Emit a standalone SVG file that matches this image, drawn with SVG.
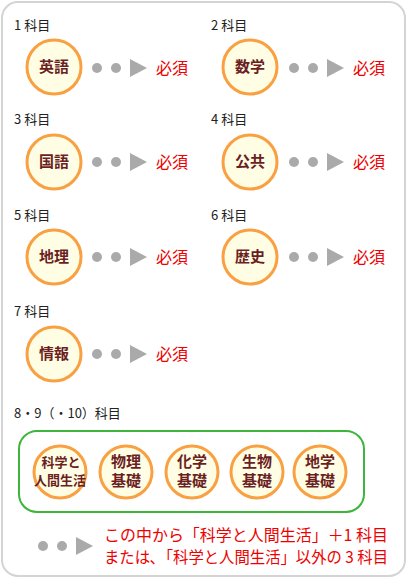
<svg xmlns="http://www.w3.org/2000/svg" width="410" height="582" viewBox="0 0 410 582">
<defs>
<style>
.frame{fill:#fff;stroke:#d4d4d4;stroke-width:2}
.cat{font-family:"Noto Sans CJK JP","Liberation Sans",sans-serif;font-size:13px;fill:#222}
.subj{fill:#fffde4;stroke:#f9a043;stroke-width:3}
.st{font-family:"Noto Sans CJK JP",sans-serif;font-size:15px;font-weight:bold;fill:#6b1f1f;text-anchor:middle}
.st2{font-family:"Noto Sans CJK JP",sans-serif;font-size:15px;font-weight:bold;fill:#6b1f1f;text-anchor:middle}
.st3{font-family:"Noto Sans CJK JP",sans-serif;font-size:13px;font-weight:bold;fill:#6b1f1f;text-anchor:middle}
.dot{fill:#aaaaaa}
.req{font-family:"Noto Sans CJK JP",sans-serif;font-size:16px;fill:#ee0000}
.note{font-family:"Noto Sans CJK JP",sans-serif;font-size:16px;fill:#ee0000}
.grp{fill:none;stroke:#3cb53a;stroke-width:2}
</style>
<g id="arrow">
<circle class="dot" cx="0" cy="0" r="5"/>
<circle class="dot" cx="19" cy="0" r="5"/>
<polygon class="dot" points="33,-9 50,0 33,9"/>
</g>
</defs>
<rect class="frame" x="2" y="2" width="403" height="574" rx="16"/>

<text class="cat" x="14" y="30">1 科目</text>
<text class="cat" x="211" y="30">2 科目</text>
<text class="cat" x="14" y="124">3 科目</text>
<text class="cat" x="211" y="124">4 科目</text>
<text class="cat" x="14" y="220">5 科目</text>
<text class="cat" x="211" y="220">6 科目</text>
<text class="cat" x="14" y="316">7 科目</text>
<text class="cat" x="14" y="418">8・9（・10）科目</text>

<g id="n-eigo"><circle class="subj" cx="54" cy="67" r="27"/><text class="st" x="54" y="72">英語</text></g>
<g id="n-sugaku"><circle class="subj" cx="250" cy="67" r="27"/><text class="st" x="250" y="72">数学</text></g>
<g id="n-kokugo"><circle class="subj" cx="54" cy="162" r="27"/><text class="st" x="54" y="167">国語</text></g>
<g id="n-kokyo"><circle class="subj" cx="250" cy="162" r="27"/><text class="st" x="250" y="167">公共</text></g>
<g id="n-chiri"><circle class="subj" cx="54" cy="257" r="27"/><text class="st" x="54" y="262">地理</text></g>
<g id="n-rekishi"><circle class="subj" cx="250" cy="257" r="27"/><text class="st" x="250" y="262">歴史</text></g>
<g id="n-joho"><circle class="subj" cx="54" cy="354" r="27"/><text class="st" x="54" y="359">情報</text></g>

<g id="connectors">
<use href="#arrow" x="97" y="68"/>
<use href="#arrow" x="294" y="68"/>
<use href="#arrow" x="97" y="162"/>
<use href="#arrow" x="294" y="162"/>
<use href="#arrow" x="97" y="257"/>
<use href="#arrow" x="294" y="257"/>
<use href="#arrow" x="97" y="354"/>
<use href="#arrow" x="43" y="546"/>
</g>

<text class="req" x="156" y="74">必須</text>
<text class="req" x="353" y="74">必須</text>
<text class="req" x="156" y="168">必須</text>
<text class="req" x="353" y="168">必須</text>
<text class="req" x="156" y="263">必須</text>
<text class="req" x="353" y="263">必須</text>
<text class="req" x="156" y="360">必須</text>

<g id="group-science">
<rect class="grp" x="19" y="431" width="345" height="81" rx="18"/>
</g>
<g id="n-kagaku-ningen"><circle class="subj" cx="60" cy="472" r="26"/><text class="st3" x="61" y="467">科学と</text><text class="st3" x="60" y="485">人間生活</text></g>
<g id="n-butsuri"><circle class="subj" cx="126" cy="472" r="26"/><text class="st2" x="126" y="467">物理</text><text class="st2" x="126" y="486">基礎</text></g>
<g id="n-kagaku"><circle class="subj" cx="192" cy="472" r="26"/><text class="st2" x="192" y="467">化学</text><text class="st2" x="192" y="486">基礎</text></g>
<g id="n-seibutsu"><circle class="subj" cx="257" cy="472" r="26"/><text class="st2" x="257" y="467">生物</text><text class="st2" x="257" y="486">基礎</text></g>
<g id="n-chigaku"><circle class="subj" cx="320" cy="472" r="26"/><text class="st2" x="320" y="467">地学</text><text class="st2" x="320" y="486">基礎</text></g>

<text class="note" x="104" y="541" textLength="284" lengthAdjust="spacingAndGlyphs">この中から「科学と人間生活」＋1 科目</text>
<text class="note" x="104" y="563" textLength="284" lengthAdjust="spacingAndGlyphs">または､「科学と人間生活」以外の 3 科目</text>
</svg>
